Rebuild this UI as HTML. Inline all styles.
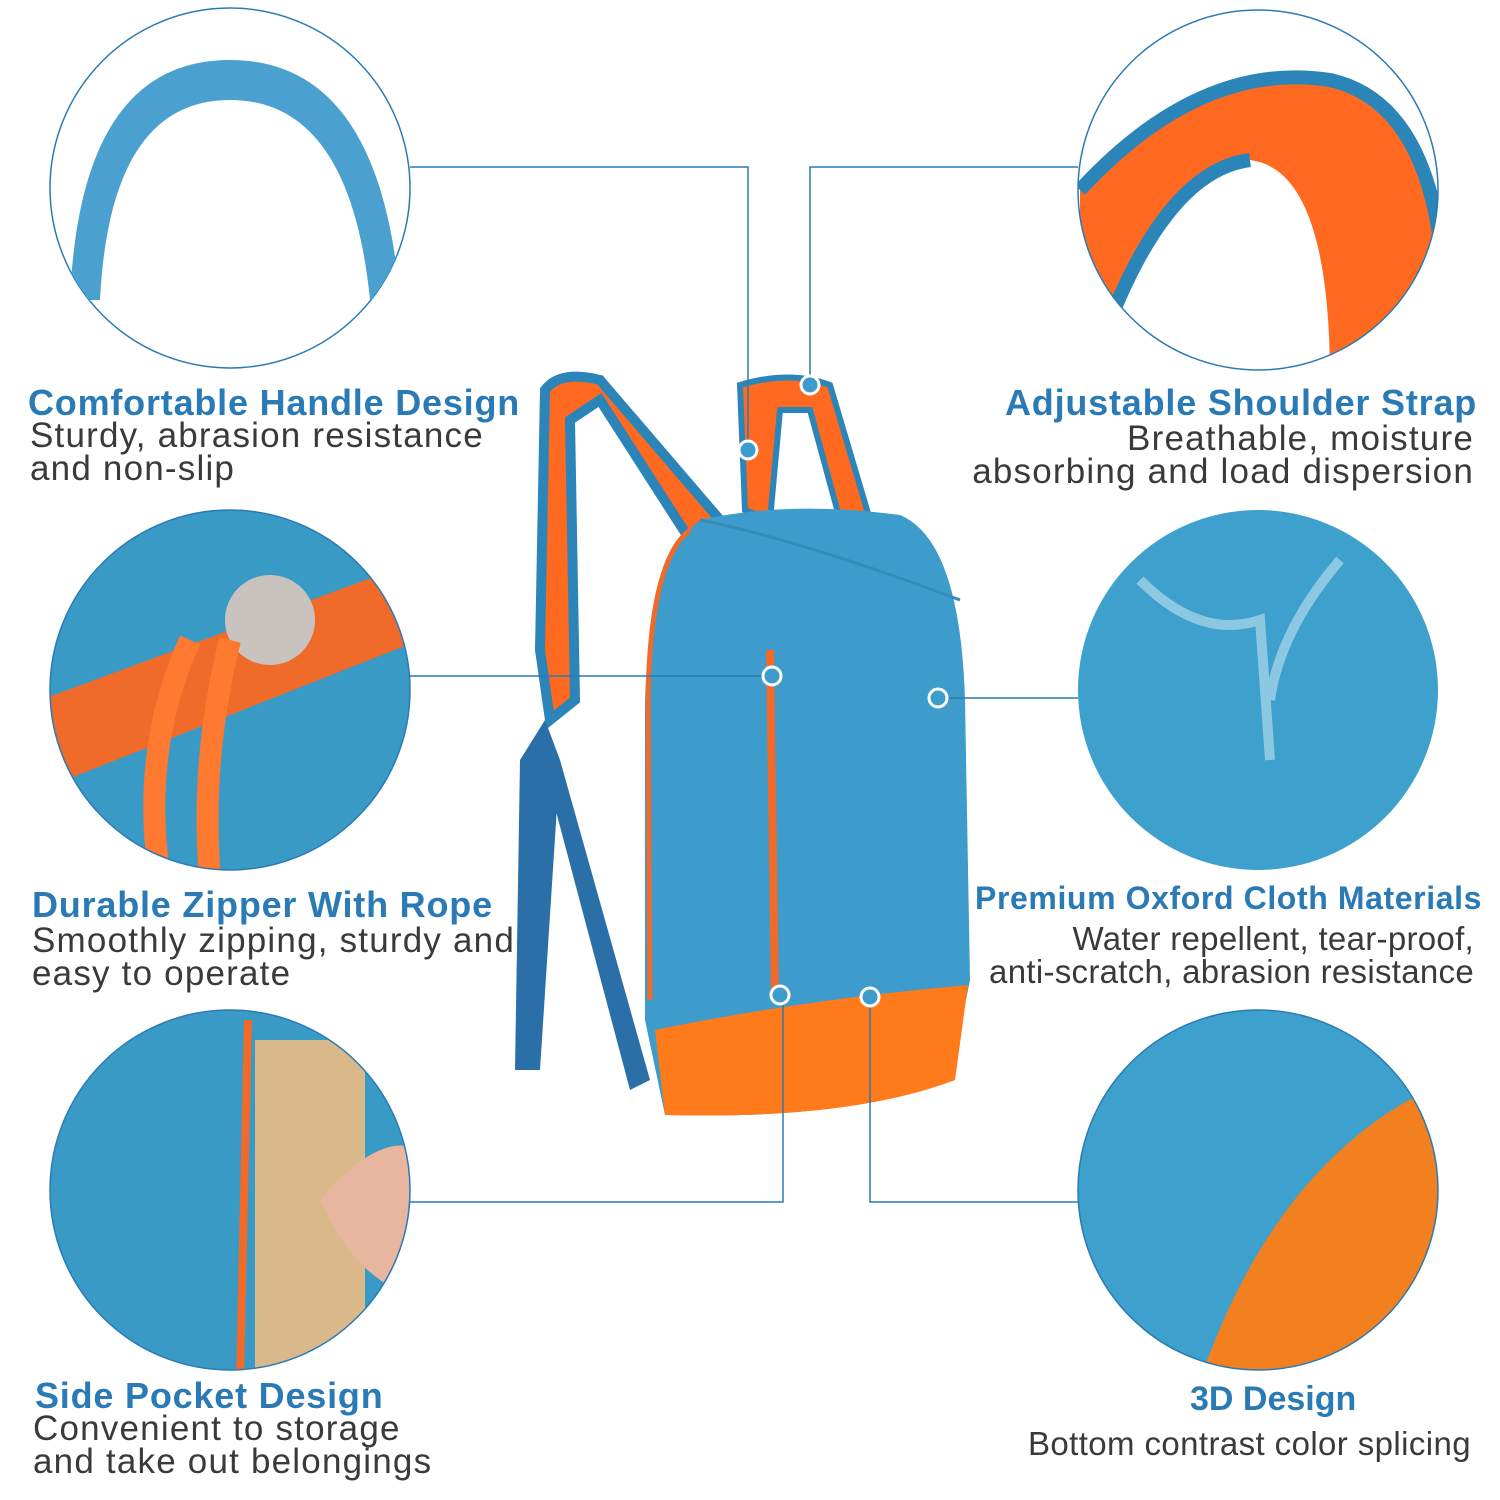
<!DOCTYPE html>
<html><head><meta charset="utf-8"><style>
body{margin:0;background:#fff;width:1500px;height:1500px;overflow:hidden;font-family:"Liberation Sans",sans-serif}
.t{position:absolute;color:#2a7ab5;font-weight:bold;font-size:36px;letter-spacing:0.8px;white-space:nowrap}
.d{position:absolute;color:#3a3a3a;font-size:35px;letter-spacing:1.2px;line-height:33px;white-space:nowrap}
</style></head><body>
<svg width="1500" height="1500" style="position:absolute;left:0;top:0">
<defs>
<clipPath id="c1"><circle cx="230" cy="188" r="180"/></clipPath>
<clipPath id="c2"><circle cx="230" cy="690" r="180"/></clipPath>
<clipPath id="c3"><circle cx="230" cy="1190" r="180"/></clipPath>
<clipPath id="c4"><circle cx="1258" cy="190" r="180"/></clipPath>
<clipPath id="c5"><circle cx="1258" cy="690" r="180"/></clipPath>
<clipPath id="c6"><circle cx="1258" cy="1190" r="180"/></clipPath>
</defs>
<circle cx="230" cy="188" r="180" fill="#fff" stroke="#2a7ab5" stroke-width="1.5"/>
<g clip-path="url(#c1)"><path d="M70 300 Q80 60 230 60 Q380 60 400 300 L370 300 Q350 100 230 100 Q110 100 100 300Z" fill="#4aa0cf"/></g>
<g clip-path="url(#c2)"><rect x="40" y="500" width="380" height="380" fill="#3a9ac6"/>
<path d="M40 700 L420 560 L420 640 L40 790Z" fill="#f06a2a"/>
<circle cx="270" cy="620" r="45" fill="#c9c3bf"/>
<path d="M190 640 Q140 750 160 880 M230 640 Q200 760 210 880" stroke="#ff7a30" stroke-width="22" fill="none"/></g>
<circle cx="230" cy="690" r="180" fill="none" stroke="#2a7ab5" stroke-width="1.5"/>
<g clip-path="url(#c3)"><rect x="40" y="1000" width="380" height="380" fill="#3a9ac6"/>
<rect x="255" y="1040" width="110" height="330" fill="#d9b98a"/>
<line x1="248" y1="1020" x2="240" y2="1380" stroke="#f06a2a" stroke-width="8"/>
<path d="M320 1200 Q380 1130 420 1150 L420 1300 Q360 1280 330 1220Z" fill="#e8b59e"/></g>
<circle cx="230" cy="1190" r="180" fill="none" stroke="#2a7ab5" stroke-width="1.5"/>
<g clip-path="url(#c4)"><rect x="1070" y="0" width="380" height="380" fill="#fff"/>
<path d="M1080 190 Q1200 60 1330 80 Q1420 100 1440 240 L1440 380 L1330 380 Q1330 170 1250 160 Q1170 170 1110 320 L1080 300Z" fill="#ff6a20"/>
<path d="M1080 190 Q1200 60 1330 80 Q1420 100 1440 240" stroke="#2c85b8" stroke-width="14" fill="none"/>
<path d="M1110 320 Q1170 170 1250 160" stroke="#2c85b8" stroke-width="14" fill="none"/></g>
<circle cx="1258" cy="190" r="180" fill="none" stroke="#2a7ab5" stroke-width="1.5"/>
<circle cx="1258" cy="690" r="180" fill="#3ea0cc"/>
<path d="M1140 580 Q1200 640 1260 620 L1270 760 M1340 560 Q1280 630 1270 700" stroke="#8cc8e2" stroke-width="10" fill="none" clip-path="url(#c5)"/>
<g clip-path="url(#c6)"><rect x="1070" y="1000" width="380" height="380" fill="#3ea0cc"/>
<path d="M1200 1380 Q1280 1150 1450 1080 L1450 1380Z" fill="#f2801e"/></g>
<circle cx="1258" cy="1190" r="180" fill="none" stroke="#2a7ab5" stroke-width="1.5"/>

<path d="M545 390 Q560 370 600 380 L720 520 L690 540 L600 400 L570 420 L575 700 L550 720 L540 650 Z" fill="#ff6a20" stroke="#2c85b8" stroke-width="10"/>
<path d="M740 385 Q790 370 830 385 L870 520 L840 520 L810 410 L780 410 L770 520 L745 510Z" fill="#ff6a20" stroke="#2c85b8" stroke-width="6"/>
<path d="M545 720 L520 760 L515 1070 L540 1070 L560 760Z" fill="#2a6fa8"/>
<path d="M560 760 L650 1080 L630 1090 L545 770Z" fill="#2a6fa8"/>
<path d="M700 520 Q790 500 900 515 Q960 540 965 700 L970 980 L950 1080 Q850 1120 665 1115 L645 1020 L645 700 Q650 560 700 520Z" fill="#3d9ccb"/>
<path d="M655 1030 Q800 1000 968 985 L955 1080 Q850 1120 665 1115Z" fill="#ff7a1a"/>
<path d="M770 650 L775 1000" stroke="#f06a2a" stroke-width="8"/>
<path d="M690 530 Q650 560 648 700 L650 1000" stroke="#f06a2a" stroke-width="5" fill="none"/>
<path d="M700 520 Q800 540 960 600" stroke="#348cb8" stroke-width="3" fill="none"/>

<g stroke="#2a7ab5" stroke-width="1.5" fill="none">
<polyline points="410,167 748,167 748,450"/>
<polyline points="1078,167 810,167 810,385"/>
<polyline points="410,676 772,676"/>
<polyline points="938,698 1078,698"/>
<polyline points="410,1202 783,1202 783,995"/>
<polyline points="870,997 870,1202 1078,1202"/>
</g>
<g fill="#3d9ccb" stroke="#fff" stroke-width="3">
<circle cx="748" cy="450" r="9"/><circle cx="810" cy="385" r="9"/>
<circle cx="772" cy="676" r="9"/><circle cx="938" cy="698" r="9"/>
<circle cx="780" cy="995" r="9"/><circle cx="870" cy="997" r="9"/>
</g>
</svg>
<div class="t" style="left:28px;top:382px">Comfortable Handle Design</div>
<div class="d" style="left:30px;top:419px">Sturdy, abrasion resistance<br>and non-slip</div>
<div class="t" style="left:1005px;top:382px">Adjustable Shoulder Strap</div>
<div class="d" style="right:26px;top:422px;text-align:right">Breathable, moisture<br>absorbing and load dispersion</div>
<div class="t" style="left:32px;top:884px">Durable Zipper With Rope</div>
<div class="d" style="left:32px;top:924px">Smoothly zipping, sturdy and<br>easy to operate</div>
<div class="t" style="left:975px;top:880px;font-size:32px;letter-spacing:0.6px">Premium Oxford Cloth Materials</div>
<div class="d" style="right:26px;top:922px;text-align:right;font-size:33px;letter-spacing:0.3px">Water repellent, tear-proof,<br>anti-scratch, abrasion resistance</div>
<div class="t" style="left:35px;top:1375px">Side Pocket Design</div>
<div class="d" style="left:33px;top:1412px">Convenient to storage<br>and take out belongings</div>
<div class="t" style="left:1190px;top:1380px;font-size:34px;letter-spacing:0">3D Design</div>
<div class="d" style="left:1028px;top:1427px;font-size:33px;letter-spacing:0.4px">Bottom contrast color splicing</div>
</body></html>
